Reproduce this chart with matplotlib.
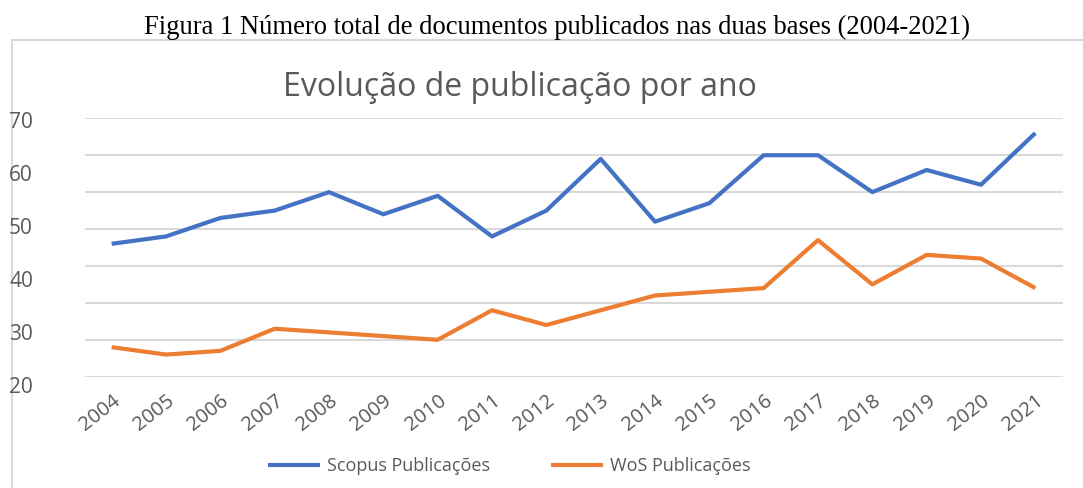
import numpy as np
import matplotlib.pyplot as plt
from matplotlib.patches import Rectangle

# data
anos = ['2004', '2005', '2006', '2007', '2008', '2009', '2010', '2011', '2012',
        '2013', '2014', '2015', '2016', '2017', '2018', '2019', '2020', '2021']
scopus = [36, 38, 43, 45, 50, 44, 49, 38, 45, 59, 42, 47, 60, 60, 50, 56, 52, 66]
wos = [8, 6, 7, 13, 12, 11, 10, 18, 14, 18, 22, 23, 24, 37, 25, 33, 32, 24]
y_labels = [20, 30, 40, 50, 60, 70]

azul = '#4472C4'
laranja = '#ED7D31'
cinza = '#595959'
grade = '#D9D9D9'

W, H = 1083, 488
fig = plt.figure(figsize=(W / 100, H / 100), dpi=100)
plt.rcParams['font.family'] = ['Open Sans', 'DejaVu Sans']

# chart frame
fig.patches.append(Rectangle((12 / W, -0.1), 1.2, 0.1 + (H - 40) / H, transform=fig.transFigure,
                             facecolor='none', edgecolor=grade, lw=1.5, zorder=0))

ax = fig.add_axes([84.5 / W, (H - 376.7) / H, (1062.5 - 84.5) / W, (376.7 - 118.3) / H])
x = np.arange(len(anos))
ax.plot(x, scopus, color=azul, lw=3, solid_capstyle='butt', label='Scopus Publicações')
ax.plot(x, wos, color=laranja, lw=3, solid_capstyle='butt', label='WoS Publicações')
ax.set_xlim(-0.5, len(anos) - 0.5)
ax.set_ylim(0, 70)
ax.set_yticks(np.arange(0, 71, 10))
ax.yaxis.grid(True, color=grade, lw=1.5)
ax.set_axisbelow(True)
ax.tick_params(axis='y', length=0, labelleft=False)
ax.set_xticks(x)
ax.set_xticklabels(anos, rotation=38, ha='right', va='top', rotation_mode='anchor',
                   fontsize=14.5, color=cinza)
ax.tick_params(axis='x', length=0, pad=10)
for s in ax.spines.values():
    s.set_visible(False)
ax.patch.set_alpha(0)

# y labels (as shown in the picture, offset from the gridlines)
ax2 = fig.add_axes([33 / W, (H - 385) / H, 1 / W, (385 - 120) / H])
ax2.set_zorder(3)
ax2.set_ylim(20, 70)
ax2.set_yticks(y_labels)
ax2.tick_params(axis='y', length=0, pad=0, labelsize=15, labelcolor=cinza)
ax2.set_xticks([])
for s in ax2.spines.values():
    s.set_visible(False)
ax2.patch.set_alpha(0)

fig.text(0.48, 0.82, 'Evolução de publicação por ano', ha='center', va='center',
         fontsize=23, color=cinza)
fig.text(557 / W, (H - 34) / H, 'Figura 1 Número total de documentos publicados nas duas bases (2004-2021)',
         ha='center', va='baseline', fontsize=19.2, family='Liberation Serif', color='black')

fig.legend(loc='center', bbox_to_anchor=(509 / W, (H - 466) / H), ncol=2, frameon=False,
           fontsize=13, labelcolor=cinza, handlelength=2.9, columnspacing=3.4, handletextpad=0.35)

fig.savefig('out.png', dpi=100)
